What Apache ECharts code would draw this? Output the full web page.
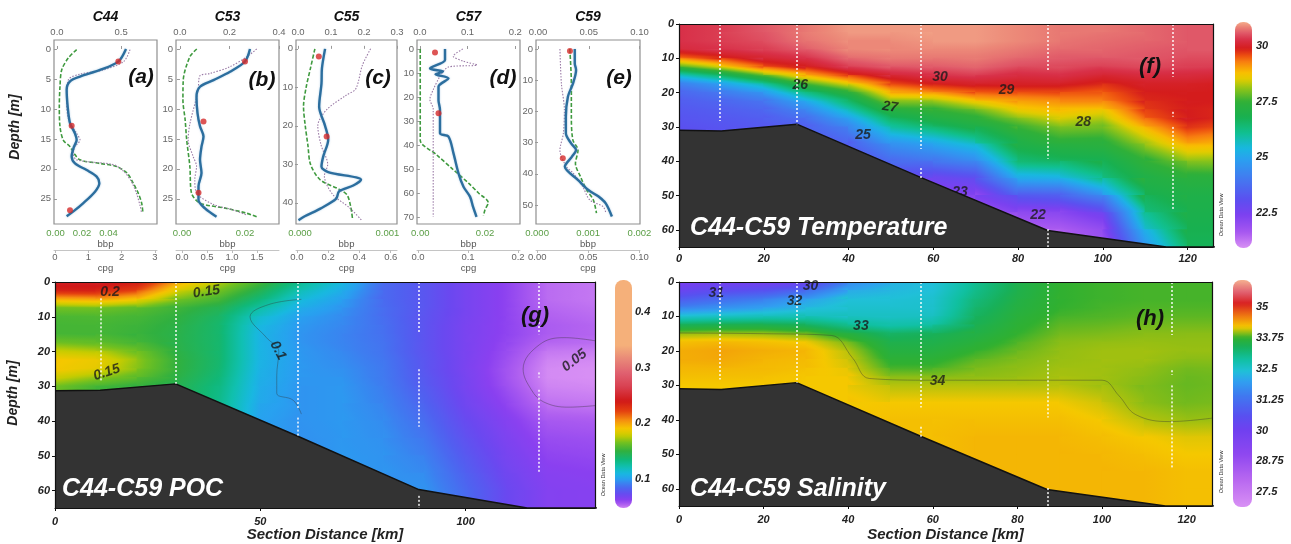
<!DOCTYPE html>
<html><head><meta charset="utf-8">
<script src="https://cdn.jsdelivr.net/npm/echarts@6/dist/echarts.min.js"></script>
<style>html,body{margin:0;padding:0;background:#fff}#chart{width:1291px;height:544px}</style>
</head><body><div id="chart"></div>
<script>
// ===================== DATA =====================
// Profile panels (a)-(e): [value, depth]
const stations = ['C44','C53','C55','C57','C59'];
const c44Cpg = [[2.13,0],[1.9,2.1],[1.35,3.5],[0.75,4.6],[0.45,5.4],[0.35,6.8],[0.38,9.6],[0.45,12.4],[0.6,14.1],[0.65,15.2],[0.57,16.3],[0.5,17.9],[0.6,19.1],[0.95,20.2],[1.25,21.3],[1.33,22.4],[1.2,23.8],[0.85,25.7],[0.55,27.1],[0.35,27.9]];
const c44Bbp = [[0.016,0.1],[0.0097,1.5],[0.0047,3.5],[0.0034,6.3],[0.0029,9.6],[0.0034,12.9],[0.0059,15.2],[0.011,16.3],[0.014,17.4],[0.0185,18.5],[0.0336,19.1],[0.046,19.6],[0.054,20.7],[0.0587,22.4],[0.0625,24.1],[0.065,25.7],[0.066,27.4]];
const c44Top = [[0.57,0.1],[0.52,2.1],[0.36,3.5],[0.18,4.2],[0.09,5.1],[0.075,8.3],[0.09,11.7],[0.154,14.1],[0.18,15.2],[0.14,16.3],[0.127,17.4],[0.154,18.5],[0.44,19.3],[0.52,20.4],[0.58,22.1],[0.62,24.1],[0.65,26.3],[0.66,27.4]];
const c44Dots = [[1.9,2.1],[0.5,12.8],[0.45,26.9]];

const c53Cpg = [[1.36,0],[1.26,2.1],[0.96,3.8],[0.63,5.2],[0.36,6.3],[0.29,8],[0.31,10.7],[0.36,12.9],[0.43,14.6],[0.39,16.3],[0.36,18.5],[0.39,20.7],[0.33,22.9],[0.33,25.2],[0.46,26.6],[0.69,28]];
const c53Bbp = [[0.0047,0],[0.0025,1.3],[0.0004,5.2],[0.0003,8.5],[0.001,11.8],[0.0015,15.2],[0.0025,19.6],[0.003,24],[0.0057,25.7],[0.0142,26.6],[0.0205,27.4],[0.0237,28]];
const c53Top = [[0.31,0],[0.27,1.3],[0.2,3],[0.12,4.1],[0.08,4.5],[0.073,7],[0.04,12.5],[0.033,15.2],[0.053,17.9],[0.067,19.6],[0.06,21.8],[0.067,24],[0.133,25.9],[0.21,26.8],[0.27,27.7]];
const c53Dots = [[1.26,2.1],[0.43,12.1],[0.33,24]];

const c55Cpg = [[0.18,0],[0.16,5],[0.157,9],[0.142,15],[0.18,20],[0.2,23.6],[0.168,28],[0.157,30.6],[0.2,32],[0.41,34],[0.36,35.5],[0.27,37],[0.25,39],[0.15,41.5],[0.05,43.5],[0.01,44.5]];
const c55Bbp = [[0.00017,0],[0.00012,5],[0.00007,10],[0.00004,15],[0.00006,20],[0.00009,25],[0.00012,30],[0.00023,34],[0.00045,36.5],[0.00054,38],[0.00058,41],[0.0006,44]];
const c55Top = [[0.22,0],[0.195,4.3],[0.175,10.4],[0.145,12.1],[0.087,15.8],[0.06,20],[0.07,25],[0.09,30],[0.08,33],[0.105,37.8],[0.155,41.2],[0.195,44.7]];
const c55Dots = [[0.14,2],[0.19,22.8]];

const c57Cpg = [[0.054,0],[0.054,4.6],[0.024,8.1],[0.05,9.4],[0.035,10.5],[0.061,12.2],[0.041,15.7],[0.041,21.3],[0.044,25.4],[0.044,35.1],[0.061,36.5],[0.071,43.5],[0.081,51.8],[0.091,57.4],[0.104,61.5],[0.11,65.7],[0.117,69.9]];
const c57Bbp = [[0,0],[0,10],[0,20],[0,30],[0,38],[0.005,44],[0.01,50],[0.015,56],[0.018,60],[0.021,64],[0.02,67],[0.0195,69.5]];
const c57Top = [[0.09,0],[0.07,3],[0.09,5],[0.12,6.7],[0.06,7.5],[0.042,11.5],[0.028,17],[0.021,21],[0.028,25],[0.028,35],[0.028,50],[0.028,70]];
const c57Dots = [[0.034,1.5],[0.041,26.8]];

const c59Cpg = [[0.0367,0],[0.0367,4.6],[0.038,6.7],[0.035,11],[0.03,15.3],[0.028,21.7],[0.028,27],[0.033,30.2],[0.038,32.4],[0.034,34.5],[0.027,37.7],[0.04,42],[0.05,45.2],[0.06,47.3],[0.067,49.5],[0.073,53.7]];
const c59Bbp = [[0.00064,0],[0.00067,11],[0.00067,21.7],[0.0007,29.2],[0.0008,32.4],[0.00075,36.7],[0.00085,41],[0.00097,45.2],[0.0011,48.4],[0.00116,52.6]];
const c59Top = [[0.0216,0],[0.023,11],[0.026,19.6],[0.025,27],[0.0216,32.4],[0.028,37.7],[0.0346,39.8],[0.044,44.1],[0.051,48.4],[0.064,50.5],[0.067,52.6]];
const c59Dots = [[0.032,0.6],[0.025,35]];

// Profile tick labels
const depthTicks = [[0,5,10,15,20,25],[0,5,10,15,20,25],[0,10,20,30,40],[0,10,20,30,40,50,60,70],[0,10,20,30,40,50]];
const topTicks = [[0,0.5],[0,0.2,0.4],[0,0.1,0.2,0.3],[0,0.1,0.2],[0,0.05,0.1]];
const bbpTicks = [[0,0.02,0.04],[0,0.02],[0,0.001],[0,0.02],[0,0.001,0.002]];
const cpgTicks = [[0,1,2,3],[0,0.5,1,1.5],[0,0.2,0.4,0.6],[0,0.1,0.2],[0,0.05,0.1]];

// Section grid nodes (km, m)
const secX = [0,10,20,30,40,50,60,70,80,90,100,110,120,132];
const secDepth = [0,2.5,5,7.5,10,12.5,15,17.5,20,22.5,25,27.5,30,35,40,45,50,55,60,65];

// Temperature (one column per secX node)
const tempGrid = [
 [30.3,30.3,30.3,30.2,29.3,27.6,25.6,24.1,23.6,23.4,23.3,23.2,23.1,23.0,23.0,23.0,23.0,23.0,23.0,23.0],
 [30.4,30.4,30.4,30.3,29.8,28.5,26.5,24.9,24.0,23.6,23.4,23.3,23.2,23.1,23.1,23.1,23.1,23.1,23.1,23.1],
 [30.6,30.6,30.5,30.4,30.1,29.6,27.8,25.9,24.7,23.9,23.6,23.4,23.3,23.2,23.2,23.2,23.2,23.2,23.2,23.2],
 [30.8,30.8,30.8,30.6,30.3,29.9,28.9,27.6,26.3,25.1,24.3,23.8,23.4,23.2,23.2,23.2,23.2,23.2,23.2,23.2],
 [31.0,31.0,30.9,30.9,30.7,30.4,29.7,28.5,27.3,26.5,25.8,24.9,24.3,23.4,23.0,22.8,22.8,22.8,22.8,22.8],
 [31.0,31.0,30.9,30.9,30.8,30.6,30.1,29.6,28.9,28.1,27.3,26.6,25.9,24.6,23.6,23.0,22.6,22.6,22.6,22.6],
 [31.0,31.0,31.0,30.9,30.8,30.6,30.3,29.9,29.2,28.0,27.5,27.1,26.5,24.9,24.0,22.6,22.2,22.0,22.0,22.0],
 [31.0,31.0,31.0,30.9,30.8,30.7,30.4,30.0,29.5,28.8,27.8,27.4,27.0,25.7,24.3,23.0,22.2,21.9,21.8,21.8],
 [30.9,30.9,30.9,30.8,30.7,30.5,30.2,30.0,29.6,29.0,28.7,28.0,27.5,27.0,26.4,25.1,23.3,22.0,21.5,21.5],
 [30.8,30.8,30.8,30.7,30.6,30.5,30.3,30.0,29.6,29.2,28.8,28.5,28.0,27.3,26.6,25.2,23.4,22.2,21.5,21.4],
 [30.8,30.8,30.7,30.7,30.6,30.4,30.1,29.8,29.5,29.3,28.7,28.2,27.9,27.3,26.8,26.2,24.5,22.6,22.0,21.8],
 [30.7,30.7,30.7,30.6,30.6,30.5,30.2,30.0,29.9,29.8,29.7,29.5,28.9,28.1,27.4,27.1,26.8,26.2,25.4,24.5],
 [30.6,30.6,30.6,30.6,30.5,30.4,30.2,30.0,29.9,29.9,29.9,29.9,29.8,29.0,28.0,27.3,27.0,26.9,26.8,26.7],
 [30.6,30.6,30.6,30.6,30.5,30.4,30.1,29.9,29.9,29.9,29.8,29.8,29.5,28.8,28.1,27.3,27.0,26.9,26.8,26.7]
];
// POC
const pocGrid = [
 [0.245,0.235,0.195,0.165,0.156,0.155,0.155,0.165,0.18,0.19,0.19,0.18,0.165,0.16,0.16,0.16,0.16,0.16,0.16,0.16],
 [0.245,0.235,0.2,0.165,0.157,0.155,0.155,0.162,0.175,0.188,0.185,0.17,0.155,0.15,0.15,0.15,0.15,0.15,0.15,0.15],
 [0.24,0.22,0.19,0.16,0.155,0.153,0.152,0.155,0.165,0.17,0.168,0.16,0.15,0.15,0.15,0.15,0.15,0.15,0.15,0.15],
 [0.2,0.18,0.165,0.153,0.15,0.148,0.147,0.147,0.148,0.15,0.15,0.148,0.145,0.145,0.145,0.145,0.145,0.145,0.145,0.145],
 [0.175,0.165,0.155,0.145,0.14,0.138,0.138,0.138,0.138,0.138,0.137,0.135,0.133,0.13,0.13,0.13,0.13,0.13,0.13,0.13],
 [0.155,0.145,0.135,0.125,0.115,0.11,0.108,0.108,0.108,0.108,0.107,0.106,0.105,0.103,0.1,0.1,0.1,0.1,0.1,0.1],
 [0.13,0.12,0.112,0.105,0.1,0.098,0.097,0.097,0.098,0.098,0.098,0.098,0.097,0.097,0.097,0.096,0.096,0.096,0.096,0.096],
 [0.11,0.105,0.1,0.097,0.095,0.094,0.093,0.093,0.094,0.095,0.096,0.097,0.098,0.098,0.098,0.098,0.098,0.098,0.098,0.098],
 [0.085,0.085,0.085,0.086,0.086,0.087,0.087,0.088,0.088,0.089,0.09,0.09,0.091,0.093,0.095,0.096,0.097,0.097,0.097,0.097],
 [0.078,0.078,0.078,0.078,0.077,0.077,0.077,0.077,0.077,0.078,0.078,0.079,0.08,0.083,0.086,0.089,0.092,0.095,0.097,0.097],
 [0.068,0.068,0.068,0.068,0.068,0.067,0.067,0.067,0.067,0.067,0.067,0.068,0.068,0.07,0.073,0.076,0.079,0.082,0.085,0.085],
 [0.061,0.061,0.061,0.061,0.061,0.061,0.061,0.06,0.059,0.058,0.057,0.057,0.058,0.061,0.064,0.066,0.068,0.07,0.072,0.072],
 [0.052,0.052,0.052,0.053,0.054,0.055,0.055,0.053,0.05,0.048,0.047,0.047,0.048,0.051,0.056,0.059,0.061,0.063,0.064,0.064],
 [0.05,0.05,0.05,0.051,0.052,0.053,0.053,0.052,0.049,0.047,0.046,0.046,0.047,0.05,0.055,0.058,0.06,0.062,0.063,0.063]
];
// Salinity
const salGrid = [
 [29.8,30.2,30.8,31.6,32.5,33.4,34.0,34.25,34.35,34.35,34.3,34.25,34.2,34.2,34.2,34.2,34.2,34.2,34.2,34.2],
 [29.9,30.5,31.2,31.8,32.6,33.5,34.0,34.3,34.4,34.38,34.3,34.25,34.2,34.2,34.2,34.2,34.2,34.2,34.2,34.2],
 [29.9,30.6,31.5,32.0,32.7,33.5,34.0,34.25,34.35,34.3,34.28,34.25,34.2,34.2,34.2,34.2,34.2,34.2,34.2,34.2],
 [30.0,31.1,32.0,32.3,32.7,33.4,33.9,34.2,34.3,34.28,34.25,34.2,34.2,34.2,34.2,34.2,34.2,34.2,34.2,34.2],
 [31.6,32.1,32.4,32.5,32.6,33.0,33.6,33.9,34.05,34.1,34.15,34.2,34.2,34.2,34.2,34.2,34.2,34.2,34.2,34.2],
 [32.2,32.3,32.4,32.5,32.6,32.8,33.3,33.5,33.6,33.7,33.8,33.95,34.05,34.2,34.25,34.25,34.25,34.25,34.25,34.25],
 [32.4,32.4,32.5,32.5,32.6,32.9,33.4,33.5,33.6,33.7,33.8,33.95,34.05,34.2,34.25,34.25,34.25,34.25,34.25,34.25],
 [33.0,33.05,33.15,33.25,33.35,33.45,33.55,33.65,33.75,33.85,33.92,33.96,34.05,34.2,34.25,34.3,34.3,34.3,34.3,34.3],
 [33.5,33.5,33.55,33.6,33.65,33.7,33.75,33.82,33.88,33.93,33.96,33.98,34.05,34.2,34.25,34.3,34.3,34.3,34.3,34.3],
 [33.75,33.75,33.75,33.75,33.8,33.85,33.9,33.95,33.97,33.98,34.0,34.02,34.05,34.2,34.25,34.3,34.3,34.3,34.3,34.3],
 [33.78,33.78,33.78,33.8,33.82,33.87,33.92,33.97,34.0,34.0,34.0,34.0,34.0,34.1,34.2,34.25,34.3,34.3,34.3,34.3],
 [33.8,33.8,33.8,33.82,33.85,33.9,33.95,33.98,34.0,34.0,33.97,33.95,33.93,33.95,34.05,34.2,34.25,34.3,34.3,34.3],
 [33.8,33.8,33.8,33.82,33.85,33.9,33.95,33.97,33.98,33.95,33.9,33.88,33.87,33.9,33.98,34.15,34.2,34.25,34.25,34.25],
 [33.8,33.8,33.8,33.82,33.85,33.9,33.95,33.97,33.98,33.95,33.92,33.9,33.9,33.92,34.0,34.15,34.2,34.25,34.25,34.25]
];

// Bathymetry (km, depth)
const bathyTsX = [0,10,27.8,57,87,115,132];
const bathyTsD = [31,31.2,29.2,44.7,60.2,65,65];
const bathyPocX = [0,11,29.4,59,88.6,115,132];
const bathyPocD = [31.3,31.1,29.3,44.3,59.7,65,65];

// Station cast segments [km, top, bottom]
const tsStations = [[9.7,0,28.3],[27.8,0,29.2],[57.1,0,36.4],[57.1,42,45],[87.1,0,13.9],[87.1,22.7,39.3],[87.1,59.8,65],[116.6,0,15.4],[116.6,25.6,27],[116.6,30,54.4]];
const pocStations = [[11.2,4.7,28.4],[29.4,0,29.3],[59,0,36.5],[59,39,44.3],[88.6,0,14.5],[88.6,25.1,41.6],[88.6,61.5,65],[117.8,0,15],[117.8,26,27.5],[117.8,31,55]];

// Contour labels [km, depth, text]
const tempLabels = [[28.6,17.8,'26'],[61.6,15.4,'30'],[49.8,24.2,'27'],[77.3,19.3,'29'],[43.4,32.5,'25'],[95.4,28.6,'28'],[84.7,55.8,'22'],[66.3,49,'23']];
const pocLabels = [[13.4,2.8,'0.2'],[36.9,2.8,'0.15'],[12.6,26,'0.15'],[54.3,19.7,'0.1'],[126.5,22.6,'0.05']];
const salLabels = [[8.8,3.2,'31'],[27.3,5.6,'32'],[31.1,1.2,'30'],[43,12.9,'33'],[61.1,28.9,'34']];

// Contour lines
const salContour34 = [[0,14.8],[20,15],[36,15.5],[41,22],[45,28],[60,28.5],[80,28.5],[100,28.5],[104,33],[108,38.5],[116,40.5],[126,39.5]];
const pocContour01 = [[60,5],[52,6.5],[47.5,10],[51.5,16],[54.5,20],[54,27],[54,32],[58,34],[60,38]];
const pocContour005 = [[132,17],[124,16],[118,18],[114,25],[116,31],[119,34.5],[125,36],[132,35.5]];

// Colour bar ranges and ticks
const tempRange = [20.9, 31.1];
const pocRange = [0.048, 0.457];
const salRange = [26.9, 36.1];
const tempCbTicks = [22.5,25,27.5,30];
const pocCbTicks = [0.1,0.2,0.3,0.4];
const salCbTicks = [27.5,28.75,30,31.25,32.5,33.75,35];

// ===================== STYLE =====================
const FONT = '"Liberation Sans", Arial, sans-serif';
const tempStops = [[20.9,'#d890f4'],[21.6,'#a858f0'],[22.4,'#7c40f0'],[23.1,'#5a50f0'],[24.0,'#4478f0'],[24.9,'#2aa0f0'],[25.4,'#18b8e0'],[26.1,'#10c090'],[26.8,'#18b050'],[27.5,'#30b038'],[28.1,'#90c418'],[28.5,'#e0cc00'],[28.8,'#f8c000'],[29.3,'#f88010'],[29.6,'#ec4c10'],[29.9,'#d41c1c'],[30.3,'#d83048'],[30.6,'#e05868'],[30.9,'#ec8878'],[31.1,'#f4ac8c']];
const salStops = [[26.9,'#d890f4'],[28.0,'#b868f0'],[29.0,'#9048f0'],[30.0,'#7040f0'],[30.6,'#5850f0'],[31.4,'#4078f0'],[32.0,'#30a0f0'],[32.4,'#20c0d8'],[32.9,'#10c0a0'],[33.4,'#18b058'],[33.75,'#30b030'],[34.0,'#a0c010'],[34.2,'#f5c800'],[34.6,'#f08010'],[35.15,'#d82020'],[35.6,'#e06070'],[36.1,'#f5b090']];
const pocStops = [[0.046,'#d890f4'],[0.054,'#b060f0'],[0.062,'#8a40f0'],[0.072,'#6a48f0'],[0.082,'#5060f0'],[0.092,'#3c80f0'],[0.1,'#28a0f0'],[0.11,'#18b8e0'],[0.122,'#10c0b0'],[0.135,'#10b878'],[0.15,'#30b040'],[0.165,'#70c020'],[0.178,'#c8cc00'],[0.19,'#f5c800'],[0.205,'#f59010'],[0.222,'#e44010'],[0.24,'#d01818'],[0.265,'#d84050'],[0.29,'#e06070'],[0.315,'#e88878'],[0.34,'#f5b07a'],[0.46,'#f5b07a']];

function hexToRgb(h){return [parseInt(h.slice(1,3),16),parseInt(h.slice(3,5),16),parseInt(h.slice(5,7),16)];}
function colorAt(v, stops){
  if (v <= stops[0][0]) return stops[0][1];
  const n = stops.length;
  if (v >= stops[n-1][0]) return stops[n-1][1];
  for (let k = 1; k < n; k++) {
    if (v <= stops[k][0]) {
      const t = (v - stops[k-1][0]) / (stops[k][0] - stops[k-1][0]);
      const a = hexToRgb(stops[k-1][1]), b = hexToRgb(stops[k][1]);
      return 'rgb(' + a.map((c,i)=>Math.round(c + (b[i]-c)*t)).join(',') + ')';
    }
  }
  return stops[n-1][1];
}

const grid = [], xAxis = [], yAxis = [], series = [], gfx = [];

// ---------- profiles ----------
const profLayout = [
 {left:54, width:103, depth:[-1.5,29.2], top:[-0.023,0.78], bbp:[-0.0011,0.0766], cpg:[-0.03,3.06], dec:[1,2,0]},
 {left:176, width:103, depth:[-1.5,29.2], top:[-0.016,0.4], bbp:[-0.0019,0.0308], cpg:[-0.12,1.94], dec:[1,2,1]},
 {left:296, width:101, depth:[-2.3,45.5], top:[-0.006,0.3], bbp:[-0.000046,0.00111], cpg:[-0.006,0.64], dec:[1,3,1]},
 {left:417, width:103, depth:[-3.75,72.9], top:[-0.006,0.21], bbp:[-0.001,0.0308], cpg:[-0.002,0.204], dec:[1,2,1]},
 {left:536, width:104, depth:[-2.9,56.1], top:[-0.002,0.1005], bbp:[-0.00002,0.00201], cpg:[-0.0012,0.1005], dec:[2,3,2]}
];
const profData = [
 {cpg:c44Cpg, bbp:c44Bbp, top:c44Top, dots:c44Dots},
 {cpg:c53Cpg, bbp:c53Bbp, top:c53Top, dots:c53Dots},
 {cpg:c55Cpg, bbp:c55Bbp, top:c55Top, dots:c55Dots},
 {cpg:c57Cpg, bbp:c57Bbp, top:c57Top, dots:c57Dots},
 {cpg:c59Cpg, bbp:c59Bbp, top:c59Top, dots:c59Dots}
];
const panelLetters = ['(a)','(b)','(c)','(d)','(e)'];
const letterPos = [[141,77],[262,80],[378,78],[503,78],[619,78]];
const tickLbl = {fontSize:9.5, color:'#666', fontFamily:FONT};

profLayout.forEach((L, p) => {
  const gi = grid.push({left:L.left, top:40, width:L.width, height:184, show:true, borderColor:'#8f8f8f', borderWidth:1.2}) - 1;
  const fmt = d => (v => Number(v).toFixed(d));
  const xTop = xAxis.push({gridIndex:gi, type:'value', position:'top', min:L.top[0], max:L.top[1],
    axisLine:{show:false}, axisTick:{show:true, length:3, customValues:topTicks[p], lineStyle:{color:'#999'}},
    axisLabel:Object.assign({customValues:topTicks[p], formatter:fmt(L.dec[0]), margin:3}, tickLbl),
    splitLine:{show:false}}) - 1;
  const xBbp = xAxis.push({gridIndex:gi, type:'value', position:'bottom', min:L.bbp[0], max:L.bbp[1],
    axisLine:{show:false}, axisTick:{show:false},
    axisLabel:Object.assign({}, tickLbl, {customValues:bbpTicks[p], formatter:fmt(L.dec[1]), margin:4, color:'#5a9e45'}),
    splitLine:{show:false}, name:'bbp', nameLocation:'middle', nameGap:15,
    nameTextStyle:{fontSize:9.5, color:'#555', fontFamily:FONT}}) - 1;
  const xCpg = xAxis.push({gridIndex:gi, type:'value', position:'bottom', offset:26, min:L.cpg[0], max:L.cpg[1],
    axisLine:{show:true, onZero:false, lineStyle:{color:'#c4c4c4', width:1}},
    axisTick:{show:true, length:3, customValues:cpgTicks[p], lineStyle:{color:'#bbb'}},
    axisLabel:Object.assign({customValues:cpgTicks[p], formatter:fmt(L.dec[2]), margin:2}, tickLbl),
    splitLine:{show:false}, name:'cpg', nameLocation:'middle', nameGap:13,
    nameTextStyle:{fontSize:9.5, color:'#555', fontFamily:FONT}}) - 1;
  const yi = yAxis.push({gridIndex:gi, type:'value', inverse:true, min:L.depth[0], max:L.depth[1],
    axisLine:{show:false}, axisTick:{show:true, length:3, customValues:depthTicks[p], lineStyle:{color:'#999'}},
    axisLabel:Object.assign({customValues:depthTicks[p], margin:3}, tickLbl),
    splitLine:{show:false}}) - 1;
  const D = profData[p];
  series.push({type:'line', xAxisIndex:xBbp, yAxisIndex:yi, data:D.bbp, showSymbol:false, smooth:0.3,
    lineStyle:{color:'#3f9a3f', width:1.6, type:[4,2]}, z:2, silent:true});
  series.push({type:'line', xAxisIndex:xTop, yAxisIndex:yi, data:D.top, showSymbol:false, smooth:0.3,
    lineStyle:{color:'#9a7aa6', width:1.1, type:[1.5,1.5]}, z:2, silent:true});
  series.push({type:'line', xAxisIndex:xCpg, yAxisIndex:yi, data:D.cpg, showSymbol:false, smooth:0.3,
    lineStyle:{color:'#2c6e9e', width:2.4, shadowColor:'rgba(120,170,210,0.6)', shadowBlur:2}, z:3, silent:true});
  series.push({type:'scatter', xAxisIndex:xCpg, yAxisIndex:yi, data:D.dots, symbolSize:6,
    itemStyle:{color:'#d42a2a'}, z:4, silent:true});
  gfx.push({type:'text', x:L.left + L.width/2, y:17, style:{text:stations[p], font:'italic bold 14px ' + FONT, fill:'#111', align:'center', verticalAlign:'middle', textAlign:'center', textVerticalAlign:'middle'}});
  gfx.push({type:'text', x:letterPos[p][0], y:letterPos[p][1], style:{text:panelLetters[p], font:'italic bold 21px ' + FONT, fill:'#111', align:'center', verticalAlign:'middle', textAlign:'center', textVerticalAlign:'middle'}});
});

// ---------- sections ----------
const lblBI = {fontFamily:FONT, fontStyle:'italic', fontWeight:'bold', fontSize:11, color:'#222'};
function cellRender(stops){
  return function(params, api){
    const a = api.coord([api.value(0), api.value(2)]);
    const b = api.coord([api.value(1), api.value(3)]);
    const v00 = api.value(4), v10 = api.value(5), v01 = api.value(6), v11 = api.value(7);
    const x = Math.min(a[0], b[0]), y = Math.min(a[1], b[1]);
    const w = Math.abs(b[0]-a[0]), h = Math.abs(b[1]-a[1]);
    const gx = ((v10 - v00) + (v11 - v01)) / 2 / w;
    const gy = ((v01 - v00) + (v11 - v10)) / 2 / h;
    const mean = (v00 + v10 + v01 + v11) / 4;
    const mag = Math.hypot(gx, gy);
    let fill;
    if (!(mag > 1e-12)) fill = colorAt(mean, stops);
    else {
      const ux = gx/mag, uy = gy/mag;
      const cx = x + w/2, cy = y + h/2;
      const e = (Math.abs(ux)*w + Math.abs(uy)*h) / 2;
      const vs = mean - mag*e, ve = mean + mag*e;
      const cs = [], N = 10;
      for (let k = 0; k < N; k++) { const t = k/(N-1); cs.push({offset:t, color:colorAt(vs + (ve-vs)*t, stops)}); }
      fill = new echarts.graphic.LinearGradient(cx-ux*e, cy-uy*e, cx+ux*e, cy+uy*e, cs, true);
    }
    return {type:'rect', shape:{x:x-0.5, y:y-0.5, width:w+1, height:h+1}, style:{fill:fill}};
  };
}
function colorbarRender(stops){
  return function(params, api){
    const vmin = api.value(1), vmax = api.value(3);
    const p0 = api.coord([api.value(0), vmax]), p1 = api.coord([api.value(2), vmin]);
    const cs = [], N = 80;
    for (let k = 0; k <= N; k++) { const t = k/N; cs.push({offset:t, color:colorAt(vmax - (vmax-vmin)*t, stops)}); }
    return {type:'rect', shape:{x:p0[0], y:p0[1], width:p1[0]-p0[0], height:p1[1]-p0[1], r:8},
      style:{fill:new echarts.graphic.LinearGradient(0,0,0,1,cs)}};
  };
}
const axLine = {show:true, onZero:false, lineStyle:{color:'#111', width:1.2}};

function addSection(S){
  const gi = grid.push({left:S.left, top:S.top, width:S.width, height:S.height, show:false}) - 1;
  const xi = xAxis.push({gridIndex:gi, type:'value', min:0, max:S.xmax, interval:S.xint, position:'bottom', z:10,
    axisLine:axLine, axisTick:{show:true, length:3, lineStyle:{color:'#111'}},
    axisLabel:Object.assign({margin:S.xMargin, showMaxLabel:false}, lblBI), splitLine:{show:false}}) - 1;
  xAxis.push({gridIndex:gi, type:'value', min:0, max:S.xmax, position:'top', z:10, axisLine:axLine,
    axisTick:{show:false}, axisLabel:{show:false}, splitLine:{show:false}});
  const yi = yAxis.push({gridIndex:gi, type:'value', inverse:true, min:0, max:65, interval:10, position:'left', z:10,
    axisLine:axLine, axisTick:{show:true, length:3, lineStyle:{color:'#111'}},
    axisLabel:Object.assign({margin:5, showMaxLabel:false}, lblBI), splitLine:{show:false}}) - 1;
  yAxis.push({gridIndex:gi, type:'value', inverse:true, min:0, max:65, position:'right', z:10, axisLine:axLine,
    axisTick:{show:false}, axisLabel:{show:false}, splitLine:{show:false}});

  const cells = [];
  for (let i = 0; i < secX.length-1; i++)
    for (let j = 0; j < secDepth.length-1; j++)
      cells.push([secX[i], secX[i+1], secDepth[j], secDepth[j+1], S.field[i][j], S.field[i+1][j], S.field[i][j+1], S.field[i+1][j+1]]);
  series.push({type:'custom', xAxisIndex:xi, yAxisIndex:yi, clip:true, z:1, silent:true, data:cells,
    encode:{x:[0,1], y:[2,3]}, renderItem:cellRender(S.stops)});

  S.contours.forEach(c => series.push({type:'line', xAxisIndex:xi, yAxisIndex:yi, data:c, showSymbol:false, smooth:0.4,
    lineStyle:{color:'#333', width:0.7, opacity:0.55}, z:2, silent:true}));

  series.push({type:'scatter', xAxisIndex:xi, yAxisIndex:yi, symbolSize:0, z:3, silent:true,
    data:S.labels.map((l,k)=>({name:l[2], value:[l[0], l[1]], label:{rotate:S.labelRot[k]}})),
    label:{show:true, position:'inside', formatter:p=>p.name, fontFamily:FONT, fontSize:14, fontWeight:'bold', fontStyle:'italic', color:'#1a1a1a'}});

  series.push({type:'line', xAxisIndex:xi, yAxisIndex:yi, data:S.bathyX.map((x,k)=>[x, S.bathyD[k]]), showSymbol:false,
    lineStyle:{color:'#111', width:1.5}, areaStyle:{color:'#333333', origin:'end', opacity:1}, z:5, silent:true});

  series.push({type:'lines', coordinateSystem:'cartesian2d', xAxisIndex:xi, yAxisIndex:yi, z:6, silent:true,
    data:S.stations.map(s=>({coords:[[s[0], s[1]], [s[0], s[2]]]})),
    lineStyle:{color:'#ffffff', width:1.5, type:[2,2], opacity:0.95}});

  // colour bar
  const cgi = grid.push({left:S.cb[0], top:S.cb[1], width:S.cb[2], height:S.cb[3], show:false}) - 1;
  const cxi = xAxis.push({gridIndex:cgi, type:'value', min:0, max:1, show:false}) - 1;
  const cyi = yAxis.push({gridIndex:cgi, type:'value', min:S.range[0], max:S.range[1], position:'right',
    axisLine:{show:false}, axisTick:{show:false}, splitLine:{show:false},
    axisLabel:Object.assign({customValues:S.cbTicks, formatter:v=>String(v), margin:S.cbMargin}, lblBI)}) - 1;
  series.push({type:'custom', xAxisIndex:cxi, yAxisIndex:cyi, silent:true, z:2, data:[[0, S.range[0], 1, S.range[1]]],
    encode:{x:[0,2], y:[1,3]}, renderItem:colorbarRender(S.stops)});

  gfx.push({type:'text', x:S.title[1], y:S.title[2], style:{text:S.title[0], font:'italic bold 25px ' + FONT, fill:'#ffffff', align:'left', verticalAlign:'middle', textAlign:'left', textVerticalAlign:'middle'}, z:100});
  gfx.push({type:'text', x:S.letter[1], y:S.letter[2], style:{text:S.letter[0], font:'italic bold 22px ' + FONT, fill:'#111', align:'center', verticalAlign:'middle', textAlign:'center', textVerticalAlign:'middle'}, z:100});
  gfx.push({type:'text', x:S.odv[0], y:S.odv[1], rotation:Math.PI/2, style:{text:'Ocean Data View', font:'5.5px ' + FONT, fill:'#333', align:'center', verticalAlign:'middle', textAlign:'center', textVerticalAlign:'middle'}, z:100});
  if (S.xName) gfx.push({type:'text', x:S.left + S.width/2, y:535, style:{text:'Section Distance [km]', font:'italic bold 15px ' + FONT, fill:'#222', align:'center', verticalAlign:'middle', textAlign:'center', textVerticalAlign:'middle'}, z:100});
}

addSection({left:679, top:24, width:534, height:223, xmax:126, xint:20, xMargin:6,
  field:tempGrid, stops:tempStops, contours:[], labels:tempLabels, labelRot:[0,0,-8,0,0,0,0,0],
  bathyX:bathyTsX, bathyD:bathyTsD, stations:tsStations,
  cb:[1235,22,17,226], range:tempRange, cbTicks:tempCbTicks, cbMargin:4,
  title:['C44-C59 Temperature',690,228], letter:['(f)',1150,67], odv:[1221,215], xName:false});
addSection({left:55, top:282, width:540, height:226, xmax:131.5, xint:50, xMargin:8,
  field:pocGrid, stops:pocStops, contours:[pocContour01, pocContour005], labels:pocLabels, labelRot:[0,8,18,-62,38],
  bathyX:bathyPocX, bathyD:bathyPocD, stations:pocStations,
  cb:[615,280,17,228], range:pocRange, cbTicks:pocCbTicks, cbMargin:3,
  title:['C44-C59 POC',62,489], letter:['(g)',535,316], odv:[603,475], xName:true});
addSection({left:679, top:282, width:533, height:224, xmax:126, xint:20, xMargin:8,
  field:salGrid, stops:salStops, contours:[salContour34], labels:salLabels, labelRot:[0,0,0,0,0],
  bathyX:bathyTsX, bathyD:bathyTsD, stations:tsStations,
  cb:[1233,280,19,227], range:salRange, cbTicks:salCbTicks, cbMargin:4,
  title:['C44-C59 Salinity',690,489], letter:['(h)',1150,319], odv:[1221,472], xName:true});

gfx.push({type:'text', x:15, y:127, rotation:Math.PI/2, style:{text:'Depth [m]', font:'italic bold 14px ' + FONT, fill:'#222', align:'center', verticalAlign:'middle', textAlign:'center', textVerticalAlign:'middle'}});
gfx.push({type:'text', x:13, y:393, rotation:Math.PI/2, style:{text:'Depth [m]', font:'italic bold 14px ' + FONT, fill:'#222', align:'center', verticalAlign:'middle', textAlign:'center', textVerticalAlign:'middle'}});

const chart = echarts.init(document.getElementById('chart'));
chart.setOption({animation:false, backgroundColor:'#ffffff', grid:grid, xAxis:xAxis, yAxis:yAxis, series:series, graphic:{elements:gfx}});
</script></body></html>
